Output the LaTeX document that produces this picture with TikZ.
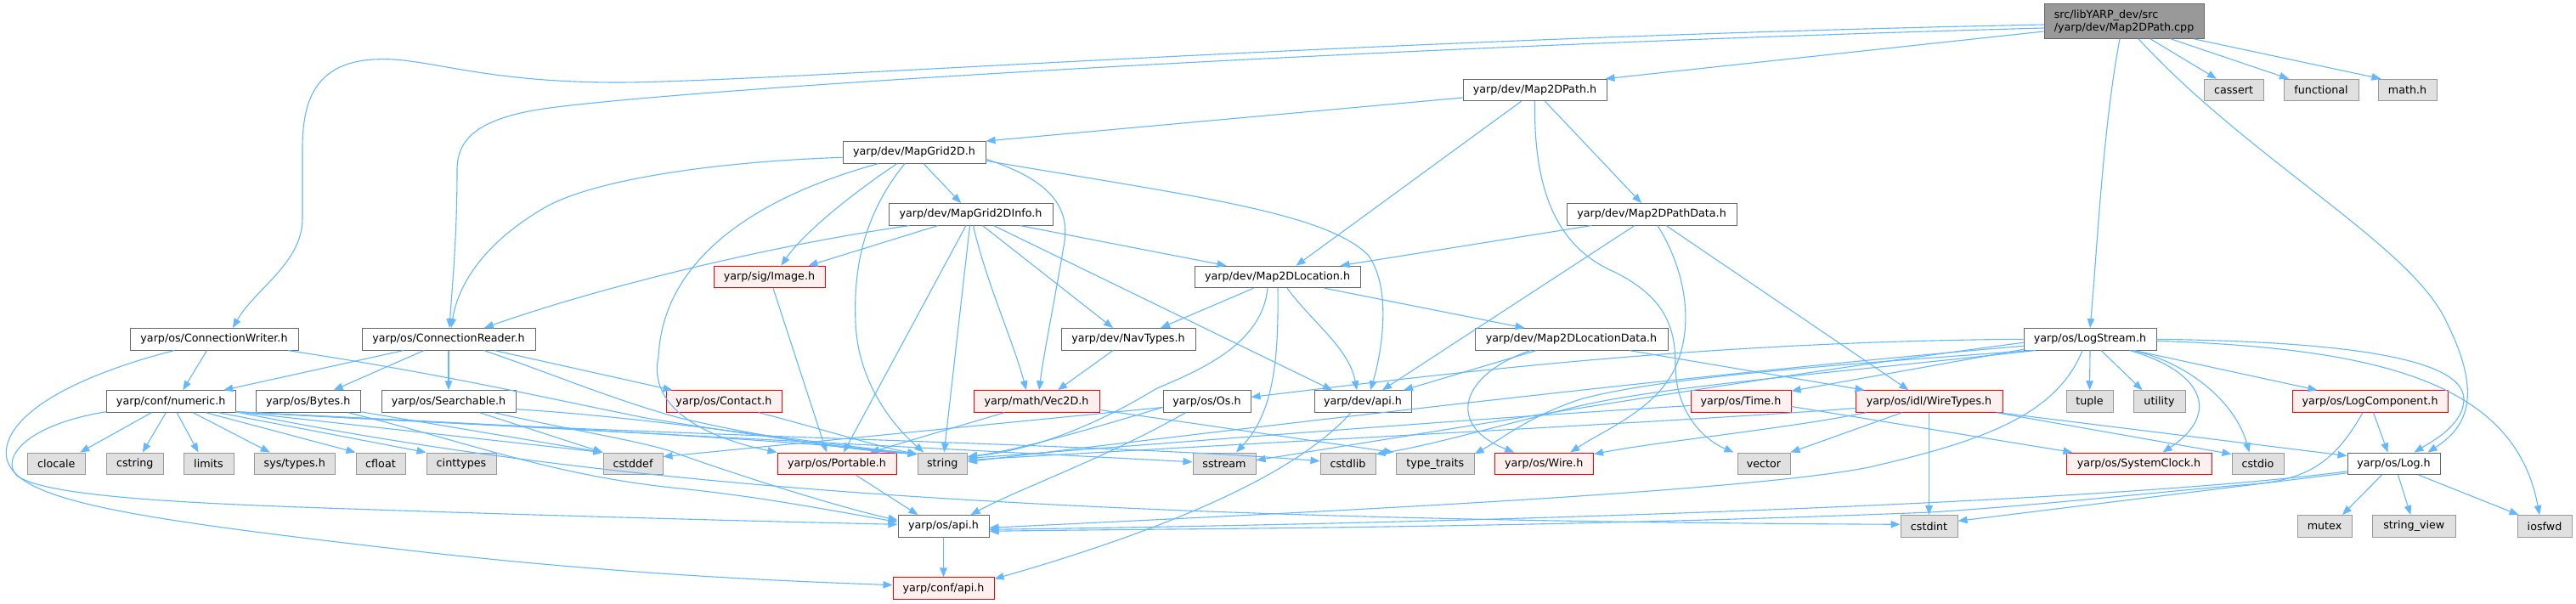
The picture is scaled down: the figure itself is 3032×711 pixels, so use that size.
\documentclass[tikz,border=0pt]{standalone}
\usepackage{fontspec}
\setmainfont{DejaVu Sans}
\usetikzlibrary{arrows.meta}
\definecolor{edgec}{HTML}{63B8FF}
\definecolor{docb}{HTML}{666666}
\definecolor{extf}{HTML}{E0E0E0}
\definecolor{extb}{HTML}{999999}
\definecolor{redf}{HTML}{FFF0F0}
\definecolor{redb}{HTML}{FF0000}
\definecolor{rootf}{HTML}{999999}
\newcommand\nfont{\fontsize{12.7pt}{15pt}\selectfont}
\newcommand\gn[6]{\node[#2, minimum width={(#4)-(#3)}] (#1) at ({((#3)+(#4))/2},#5) {#6};}
\tikzset{
  nb/.style={rectangle, inner sep=0pt, minimum height=25.5pt, font=\nfont, line width=1pt, text=black},
  doc/.style={nb, draw=docb, fill=white},
  ext/.style={nb, draw=extb, fill=extf},
  trn/.style={nb, draw=redb, fill=redf},
  rootn/.style={nb, draw=docb, fill=rootf, minimum height=40.6pt, align=left},
  e/.style={draw=edgec, line width=1.1pt, -{Triangle[length=11pt,width=8.5pt]}}
}
\begin{document}
\begin{tikzpicture}[x=1pt,y=-1pt]
\useasboundingbox (0,0) rectangle (3032,711);
\fill[white] (0,0) rectangle (3032,711);
% nodes
\gn{root}{rootn}{2406}{2594}{25}{src/libYARP\_dev/src\\/yarp/dev/Map2DPath.cpp}
\gn{cassert}{ext}{2594}{2664}{106}{cassert}
\gn{functional}{ext}{2688}{2776}{106}{functional}
\gn{mathh}{ext}{2799}{2868}{106}{math.h}
\gn{mdpath}{doc}{1722}{1891}{106}{yarp/dev/Map2DPath.h}
\gn{mapgrid}{doc}{992}{1160}{179.3}{yarp/dev/MapGrid2D.h}
\gn{mgi}{doc}{1046}{1239}{252.3}{yarp/dev/MapGrid2DInfo.h}
\gn{mdpd}{doc}{1844}{2044}{252.3}{yarp/dev/Map2DPathData.h}
\gn{image}{trn}{840}{971}{326}{yarp/sig/Image.h}
\gn{mdloc}{doc}{1406}{1601}{326}{yarp/dev/Map2DLocation.h}
\gn{cw}{doc}{153}{351}{399.3}{yarp/os/ConnectionWriter.h}
\gn{cr}{doc}{426}{630}{399.3}{yarp/os/ConnectionReader.h}
\gn{nav}{doc}{1249}{1407}{399.3}{yarp/dev/NavTypes.h}
\gn{mdld}{doc}{1736}{1963}{399.3}{yarp/dev/Map2DLocationData.h}
\gn{logstream}{doc}{2382}{2538}{399.3}{yarp/os/LogStream.h}
\gn{numeric}{doc}{125.5}{277}{472.5}{yarp/conf/numeric.h}
\gn{bytes}{doc}{301.5}{424}{472.5}{yarp/os/Bytes.h}
\gn{searchable}{doc}{449}{607}{472.5}{yarp/os/Searchable.h}
\gn{contact}{trn}{784}{920}{472.5}{yarp/os/Contact.h}
\gn{vec}{trn}{1146}{1294}{472.5}{yarp/math/Vec2D.h}
\gn{os}{doc}{1369}{1472}{472.5}{yarp/os/Os.h}
\gn{devapi}{doc}{1547}{1661}{472.5}{yarp/dev/api.h}
\gn{time}{trn}{1990}{2108}{472.5}{yarp/os/Time.h}
\gn{wiretypes}{trn}{2184}{2357}{472.5}{yarp/os/idl/WireTypes.h}
\gn{tuple}{ext}{2432}{2487}{472.5}{tuple}
\gn{utility}{ext}{2511}{2572}{472.5}{utility}
\gn{logcomp}{trn}{2698}{2881}{472.5}{yarp/os/LogComponent.h}
\gn{clocale}{ext}{32.5}{100}{545.8}{clocale}
\gn{cstring}{ext}{125.5}{192}{545.8}{cstring}
\gn{limits}{ext}{216}{275}{545.8}{limits}
\gn{systypes}{ext}{299}{394.5}{545.8}{sys/types.h}
\gn{cfloat}{ext}{419}{477}{545.8}{cfloat}
\gn{cinttypes}{ext}{502}{584}{545.8}{cinttypes}
\gn{cstddef}{ext}{710}{780}{545.8}{cstddef}
\gn{portable}{trn}{915}{1055}{545.8}{yarp/os/Portable.h}
\gn{string}{ext}{1080}{1138.5}{545.8}{string}
\gn{sstream}{ext}{1404}{1478}{545.8}{sstream}
\gn{cstdlib}{ext}{1554}{1619}{545.8}{cstdlib}
\gn{typetraits}{ext}{1643.6}{1735}{545.8}{type\_traits}
\gn{wire}{trn}{1759}{1875.5}{545.8}{yarp/os/Wire.h}
\gn{vector}{ext}{2045}{2107}{545.8}{vector}
\gn{sysclock}{trn}{2432}{2603}{545.8}{yarp/os/SystemClock.h}
\gn{cstdio}{ext}{2627}{2688}{545.8}{cstdio}
\gn{log}{doc}{2763}{2872}{545.8}{yarp/os/Log.h}
\gn{osapi}{doc}{1057}{1164}{619.3}{yarp/os/api.h}
\gn{cstdint}{ext}{2237}{2304}{619.3}{cstdint}
\gn{mutex}{ext}{2704}{2768}{619.3}{mutex}
\gn{stringview}{ext}{2792.6}{2890}{619.3}{string\_view}
\gn{iosfwd}{ext}{2963}{3027}{619.3}{iosfwd}
\gn{confapi}{trn}{1051}{1170}{692.7}{yarp/conf/api.h}
% root edges
\draw[e] ([yshift=-12pt]root.west) -- ([xshift=-2pt]mdpath.north east);
\draw[e] ([yshift=-4pt]root.west) .. controls (1600,45) and (900,97) .. (727,97) .. controls (560,97) and (500,66) .. (440,70) .. controls (370,74) and (356,120) .. (356,175) -- (356,257) .. controls (356,310) and (300,340) .. ([xshift=22pt]cw.north);
\draw[e] ([yshift=-8pt]root.west) .. controls (1600,55) and (800,105) .. (640,128) .. controls (560,140) and (538,165) .. (538,200) .. controls (538,280) and (532,340) .. ([xshift=1pt]cr.north);
\draw[e] ([xshift=-5pt]root.south) .. controls (2475,150) and (2468,300) .. (logstream.north);
\draw[e] ([xshift=17pt]root.south) .. controls (2650,190) and (2840,290) .. (2880,380) .. controls (2925,470) and (2900,505) .. ([xshift=40pt]log.north);
\draw[e] ([xshift=31pt]root.south) -- ([xshift=-20pt]cassert.north);
\draw[e] ([xshift=55pt]root.south) -- ([xshift=-38pt]functional.north);
\draw[e] ([xshift=82pt]root.south) -- ([xshift=4pt]mathh.north west);
% Map2DPath
\draw[e] ([yshift=-9pt]mdpath.west) -- (mapgrid.north east);
\draw[e] ([xshift=-16pt]mdpath.south) -- ([xshift=22pt]mdloc.north);
\draw[e] ([xshift=12pt]mdpath.south) -- ([xshift=-12pt]mdpd.north);
\draw[e] (mdpath.south) .. controls (1805,220) and (1830,290) .. (1900,320) .. controls (1960,350) and (1972,385) .. (1972,430) .. controls (1972,480) and (2000,515) .. ([xshift=-4pt]vector.north west);
% Map2DPathData
\draw[e] ([xshift=-71pt]mdpd.south) -- ([xshift=74pt]mdloc.north);
\draw[e] ([xshift=-20pt]mdpd.south) -- ([xshift=23pt]devapi.north);
\draw[e] ([xshift=7pt]mdpd.south) .. controls (1985,320) and (1992,380) .. (1975,425) .. controls (1955,480) and (1890,505) .. ([xshift=31pt]wire.north);
\draw[e] ([xshift=17pt]mdpd.south) -- ([xshift=-24pt]wiretypes.north);
% MapGrid2D
\draw[e] ([yshift=-6pt]mapgrid.west) .. controls (850,190) and (700,210) .. (640,245) .. controls (575,283) and (540,330) .. ([xshift=3pt]cr.north);
\draw[e] ([xshift=-20pt]mapgrid.south) .. controls (1000,230) and (945,275) .. ([xshift=14pt]image.north);
\draw[e] ([xshift=-11pt]mapgrid.south) .. controls (1010,260) and (1005,330) .. (1007,380) .. controls (1010,450) and (1050,500) .. ([xshift=-22pt]string.north);
\draw[e] ([xshift=11pt]mapgrid.south) -- ([xshift=-11.5pt]mgi.north);
\draw[e] ([yshift=-8pt]mapgrid.east) .. controls (1230,210) and (1262,240) .. (1252,290) .. controls (1240,360) and (1228,420) .. ([xshift=3pt]vec.north);
\draw[e] ([yshift=-10pt]mapgrid.east) .. controls (1400,230) and (1560,250) .. (1610,300) .. controls (1640,340) and (1625,420) .. ([xshift=9pt]devapi.north);
\draw[e] ([xshift=-42pt]mapgrid.south) .. controls (880,235) and (780,310) .. (775,420) .. controls (762,480) and (830,515) .. (portable.north west);
% MapGrid2DInfo
\draw[e] ([xshift=-72pt]mgi.south) .. controls (900,290) and (700,340) .. ([xshift=42pt]cr.north);
\draw[e] ([xshift=-38.5pt]mgi.south) -- ([xshift=46pt]image.north);
\draw[e] ([xshift=-5.5pt]mgi.south) -- ([xshift=8pt]portable.north);
\draw[e] ([xshift=-1pt]mgi.south) -- ([xshift=2pt]string.north);
\draw[e] ([xshift=3pt]mgi.south) .. controls (1160,330) and (1192,400) .. ([xshift=-12pt]vec.north);
\draw[e] ([xshift=14pt]mgi.south) -- ([xshift=-18pt]nav.north);
\draw[e] ([xshift=27pt]mgi.south) -- ([xshift=-36pt]devapi.north);
\draw[e] ([xshift=58pt]mgi.south) -- ([xshift=-60pt]mdloc.north);
% Image
\draw[e] ([xshift=4.5pt]image.south) -- ([xshift=-12pt]portable.north);
% Map2DLocation
\draw[e] ([xshift=-28pt]mdloc.south) -- ([xshift=38pt]nav.north);
\draw[e] ([xshift=-11.5pt]mdloc.south) .. controls (1485,410) and (1400,440) .. (1360,458) .. controls (1300,495) and (1220,530) .. ([yshift=-5pt]string.north east);
\draw[e] ([xshift=0.5pt]mdloc.south) .. controls (1505,420) and (1500,485) .. ([xshift=14pt]sstream.north);
\draw[e] ([xshift=11.5pt]mdloc.south) .. controls (1545,380) and (1588,410) .. ([xshift=-7pt]devapi.north);
\draw[e] ([xshift=55.5pt]mdloc.south) -- ([xshift=-55pt]mdld.north);
% NavTypes
\draw[e] ([xshift=-18pt]nav.south) -- ([xshift=25pt]vec.north);
% Map2DLocationData
\draw[e] ([xshift=-41pt]mdld.south) -- ([xshift=48pt]devapi.north);
\draw[e] ([xshift=-48pt]mdld.south) .. controls (1720,440) and (1700,500) .. ([xshift=-35pt]wire.north);
\draw[e] ([xshift=68pt]mdld.south) -- ([xshift=11pt]wiretypes.north west);
% ConnectionWriter
\draw[e] ([xshift=-8.5pt]cw.south) -- ([xshift=14pt]numeric.north);
\draw[e] ([xshift=87pt]cw.south) .. controls (520,440) and (650,470) .. (760,492) .. controls (900,515) and (1020,530) .. ([yshift=-2pt]string.north west);
\draw[e] ([xshift=-47pt]cw.south) .. controls (60,450) and (0,500) .. (8,540) .. controls (20,590) and (150,610) .. (500,650) .. controls (750,678) and (950,685) .. ([yshift=4pt]confapi.west);
% ConnectionReader
\draw[e] ([xshift=-53pt]cr.south) -- ([xshift=62pt]numeric.north);
\draw[e] ([xshift=-29pt]cr.south) -- ([xshift=30pt]bytes.north);
\draw[e] (cr.south) -- (searchable.north);
\draw[e] ([xshift=41.5pt]cr.south) .. controls (650,440) and (720,470) .. (800,492) .. controls (900,515) and (1000,530) .. ([yshift=-2pt]string.north west);
\draw[e] ([xshift=54pt]cr.south) -- ([xshift=8pt]contact.north west);
% numeric
\draw[e] ([yshift=1pt]numeric.south west) .. controls (30,500) and (0,540) .. (20,560) .. controls (60,590) and (300,595) .. (500,602) .. controls (750,610) and (950,615) .. ([yshift=2pt]osapi.west);
\draw[e] ([xshift=-23pt]numeric.south) -- ([xshift=28pt]clocale.north);
\draw[e] ([xshift=-6pt]numeric.south) -- ([xshift=9pt]cstring.north);
\draw[e] ([xshift=7pt]numeric.south) -- ([xshift=-12pt]limits.north);
\draw[e] ([xshift=26pt]numeric.south) -- ([xshift=-29pt]systypes.north);
\draw[e] ([xshift=41pt]numeric.south) -- (cfloat.north west);
\draw[e] ([xshift=56pt]numeric.south) -- (cinttypes.north west);
\draw[e] ([yshift=1pt]numeric.south east) -- (cstddef.north west);
\draw[e] ([yshift=1pt]numeric.south east) .. controls (700,505) and (950,520) .. ([yshift=-2pt]string.north west);
\draw[e] ([yshift=1pt]numeric.south east) -- ([yshift=2pt]sstream.west);
\draw[e] ([yshift=1pt]numeric.south east) .. controls (800,515) and (1300,522) .. ([yshift=3pt]cstdlib.west);
\draw[e] ([yshift=1pt]numeric.south east) .. controls (700,570) and (1200,612) .. ([yshift=2pt]cstdint.west);
% Bytes
\draw[e] ([yshift=1pt]bytes.south east) -- (cstddef.north west);
\draw[e] ([xshift=47pt]bytes.south) .. controls (550,520) and (650,560) .. (800,575) .. controls (900,585) and (1000,605) .. ([yshift=5pt]osapi.west);
% Searchable
\draw[e] ([xshift=36.5pt]searchable.south) -- (cstddef.north west);
\draw[e] ([yshift=4pt]searchable.south east) .. controls (750,490) and (950,520) .. ([yshift=-2pt]string.north west);
\draw[e] ([xshift=53.5pt]searchable.south) .. controls (690,510) and (770,522) .. (800,535) .. controls (900,570) and (1000,600) .. ([yshift=7pt]osapi.west);
% Contact
\draw[e] ([xshift=41pt]contact.south) .. controls (950,500) and (1030,525) .. ([yshift=-2pt]string.north west);
% Vec2D
\draw[e] ([xshift=-38pt]vec.south) -- ([xshift=39pt]portable.north);
\draw[e] ([yshift=-10pt]vec.east) -- ([xshift=-3pt]typetraits.north west);
% Os
\draw[e] ([yshift=-7pt]os.west) .. controls (1300,500) and (1200,530) .. ([yshift=-5pt]string.north east);
\draw[e] ([yshift=-7pt]os.west) -- ([yshift=-5pt]cstddef.north east);
\draw[e] ([xshift=-25pt]os.south) .. controls (1300,540) and (1200,575) .. ([xshift=32pt]osapi.north);
% dev/api
\draw[e] ([xshift=-14pt]devapi.south) .. controls (1520,565) and (1350,630) .. ([yshift=-2pt]confapi.north east);
% Time
\draw[e] ([yshift=-5pt]time.west) .. controls (1700,495) and (1400,520) .. ([yshift=-7pt]string.north east);
\draw[e] ([yshift=-6pt]time.east) -- ([xshift=8pt]sysclock.north west);
% WireTypes
\draw[e] ([yshift=-8pt]wiretypes.west) .. controls (2000,495) and (1500,520) .. ([yshift=-9pt]string.north east);
\draw[e] ([xshift=-74pt]wiretypes.south) .. controls (2100,505) and (1950,520) .. ([yshift=-2pt]wire.north east);
\draw[e] ([xshift=-32pt]wiretypes.south) -- (vector.north east);
\draw[e] (wiretypes.south) -- (cstdint.north);
\draw[e] ([xshift=-7.5pt]wiretypes.south east) -- ([yshift=-2pt]cstdio.north west);
\draw[e] ([xshift=-5pt]wiretypes.south east) -- ([yshift=-4pt]log.north west);
% LogStream
\draw[e] (logstream.south) -- (tuple.north);
\draw[e] ([xshift=13pt]logstream.south) -- ([xshift=-20pt]utility.north);
\draw[e] ([xshift=47pt]logstream.south) .. controls (2600,440) and (2610,490) .. ([xshift=28pt]sysclock.north);
\draw[e] ([xshift=50pt]logstream.south) .. controls (2570,425) and (2630,470) .. ([xshift=-10pt]cstdio.north);
\draw[e] ([xshift=52pt]logstream.south) -- ([xshift=30pt]logcomp.north west);
\draw[e] (logstream.east) .. controls (2750,402) and (2900,420) .. (2900,470) .. controls (2900,500) and (2862,520) .. ([xshift=24pt]log.north);
\draw[e] ([yshift=-2pt]logstream.east) .. controls (2800,410) and (2960,450) .. ([xshift=-6pt]iosfwd.north);
\draw[e] (logstream.west) .. controls (2000,402) and (1700,440) .. ([yshift=5pt]os.east);
\draw[e] ([yshift=-12pt]logstream.west) -- ([yshift=-1pt]time.north east);
\draw[e] ([yshift=-4pt]logstream.west) .. controls (2100,440) and (1800,490) .. ([yshift=4pt]sstream.east);
\draw[e] ([yshift=-8pt]logstream.west) .. controls (2000,440) and (1500,500) .. ([yshift=-11pt]string.north east);
\draw[e] ([xshift=10pt]logstream.south west) .. controls (2150,430) and (1950,445) .. (1860,470) .. controls (1800,490) and (1770,515) .. ([yshift=-2pt]typetraits.north east);
\draw[e] ([xshift=14pt]logstream.south west) .. controls (2150,440) and (1950,455) .. (1850,480) .. controls (1750,505) and (1680,525) .. ([yshift=-2pt]cstdlib.north east);
\draw[e] ([xshift=-9pt]logstream.south) .. controls (2420,490) and (2330,520) .. (2200,550) .. controls (2050,580) and (1500,605) .. ([yshift=-2pt]osapi.east);
% Log
\draw[e] ([xshift=-14pt]log.south) -- ([xshift=21pt]mutex.north);
\draw[e] ([xshift=5pt]log.south) -- ([xshift=-4pt]stringview.north);
\draw[e] ([xshift=29pt]log.south) -- ([xshift=2pt]iosfwd.north west);
\draw[e] ([yshift=-9pt]log.west) .. controls (2500,590) and (1800,615) .. ([yshift=-4pt]osapi.east);
\draw[e] ([yshift=-11pt]log.west) -- ([yshift=6pt]cstdint.east);
% LogComponent
\draw[e] ([xshift=4pt]logcomp.south) -- ([xshift=-7pt]log.north);
\draw[e] ([xshift=-8.5pt]logcomp.south) .. controls (2750,540) and (2720,565) .. (2650,570) .. controls (2550,578) and (2400,595) .. (2272,603) .. controls (1800,622) and (1400,622) .. ([yshift=-6pt]osapi.east);
% Portable, os/api
\draw[e] ([xshift=22pt]portable.south) -- ([xshift=-30pt]osapi.north);
\draw[e] (osapi.south) -- (confapi.north);
\end{tikzpicture}
\end{document}
